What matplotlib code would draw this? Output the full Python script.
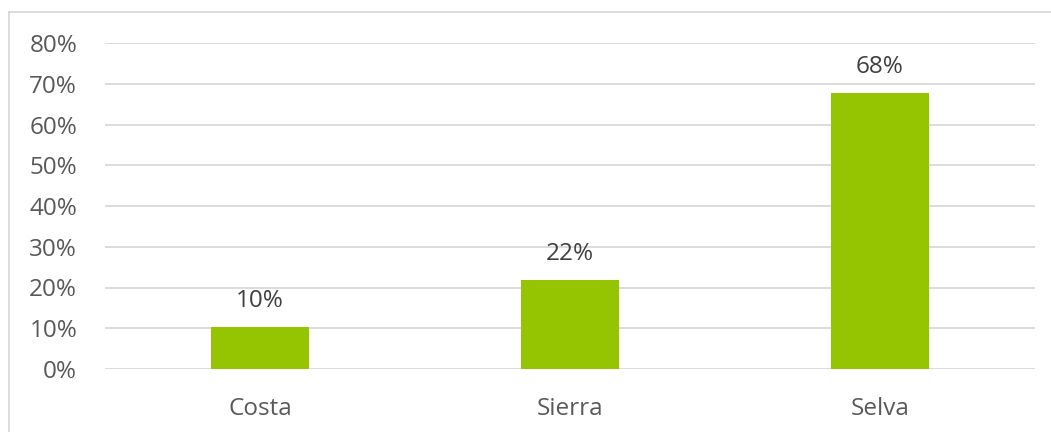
import matplotlib
matplotlib.use("Agg")
import matplotlib.pyplot as plt
from matplotlib.lines import Line2D
from matplotlib.ticker import PercentFormatter

categories = ["Costa", "Sierra", "Selva"]
values = [0.102, 0.218, 0.677]
labels = ["10%", "22%", "68%"]
yticks = [0, 0.1, 0.2, 0.3, 0.4, 0.5, 0.6, 0.7, 0.8]

plt.rcParams['font.family'] = ['Open Sans', 'DejaVu Sans']

W, H = 1051, 432
fig = plt.figure(figsize=(W / 100, H / 100), dpi=100)
ax = fig.add_axes([105 / W, 1 - 369 / H, 930 / W, 326 / H])

x = list(range(len(categories)))
ax.bar(x, values, width=0.313, color="#95c500", zorder=3)
ax.set_xlim(-0.5, len(categories) - 0.5)
ax.set_ylim(0, 0.8)
ax.set_yticks(yticks)
ax.yaxis.set_major_formatter(PercentFormatter(1.0, decimals=0))
ax.set_xticks(x)
ax.set_xticklabels(categories)
ax.grid(axis='y', color="#d9d9d9", linewidth=1.3, zorder=0)
ax.set_axisbelow(True)
for s in ax.spines.values():
    s.set_visible(False)
ax.tick_params(axis='both', length=0, labelsize=17.5, labelcolor="#595959")
ax.tick_params(axis='y', pad=20)
ax.tick_params(axis='x', pad=20.5)

for xi, v, lab in zip(x, values, labels):
    ax.annotate(lab, (xi, v), xytext=(0, 10.5), textcoords='offset points',
                ha='center', va='bottom', fontsize=17.5, color="#404040")

# chart border (top and left visible)
fig.add_artist(Line2D([9 / W, 1], [1 - 12 / H, 1 - 12 / H], transform=fig.transFigure,
                      color="#d9d9d9", linewidth=1.3))
fig.add_artist(Line2D([9 / W, 9 / W], [0, 1 - 12 / H], transform=fig.transFigure,
                      color="#d9d9d9", linewidth=1.3))

fig.savefig("out.png", dpi=100)
